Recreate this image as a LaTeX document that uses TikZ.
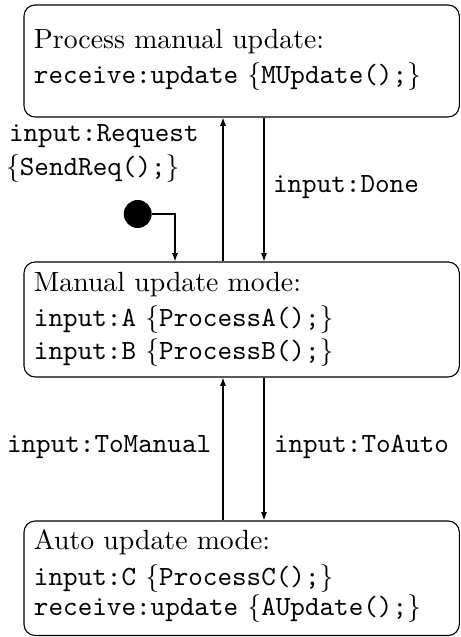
\documentclass[tikz,border=0pt]{standalone}
\usetikzlibrary{arrows.meta,fit}
\begin{document}
\begin{tikzpicture}[
  x=0.36pt, y=0.36pt,
  statebox/.style={draw, rounded corners=4pt, inner sep=0pt, line width=0.4pt},
  txt/.style={anchor=base west, inner sep=0pt, outer sep=0pt},
  arr/.style={-{Latex[length=3pt,width=2.2pt]}, line width=0.4pt},
  initdot/.style={circle, fill=black, minimum size=28*0.36pt, inner sep=0pt}
]
\useasboundingbox (0,0) rectangle (460,637);

% state boxes
\node[statebox, fit={(24,520) (459.3,632)}] (top) {};
\node[statebox, fit={(24,260) (459.3,375)}] (mid) {};
\node[statebox, fit={(24,1.5) (459.3,116)}] (bot) {};

% box contents
\node[txt] (t1) at (34,588) {Process manual update:};
\node[txt] (t2) at (34,553) {\texttt{receive:update} $\{$\texttt{MUpdate();}$\}$};

\node[txt] (m1) at (34,345) {Manual update mode:};
\node[txt] (m2) at (34,310) {\texttt{input:A} $\{$\texttt{ProcessA();}$\}$};
\node[txt] (m3) at (34,277) {\texttt{input:B} $\{$\texttt{ProcessB();}$\}$};

\node[txt] (b1) at (34,87) {Auto update mode:};
\node[txt] (b2) at (34,51) {\texttt{input:C} $\{$\texttt{ProcessC();}$\}$};
\node[txt] (b3) at (34,21) {\texttt{receive:update} $\{$\texttt{AUpdate();}$\}$};

% transition labels
\node[txt] (lreq) at (9,495) {\texttt{input:Request}};
\node[txt] (lsend) at (6,461) {$\{$\texttt{SendReq();}$\}$};
\node[txt] (ldone) at (273,444) {\texttt{input:Done}};
\node[txt] (lman) at (7,184) {\texttt{input:ToManual}};
\node[txt] (lauto) at (274,184) {\texttt{input:ToAuto}};

% columns of the transition lines
\coordinate (lx) at (223,0);
\coordinate (rx) at (264,0);
\coordinate (ix) at (175,0);

% initial state
\node[initdot] (init) at (137.7,423) {};
\draw[arr] (init.east) -| (mid.north -| ix);

% transitions
\draw[arr] (mid.north -| lx) -- (top.south -| lx);
\draw[arr] (top.south -| rx) -- (mid.north -| rx);
\draw[arr] (bot.north -| lx) -- (mid.south -| lx);
\draw[arr] (mid.south -| rx) -- (bot.north -| rx);
\end{tikzpicture}
\end{document}
